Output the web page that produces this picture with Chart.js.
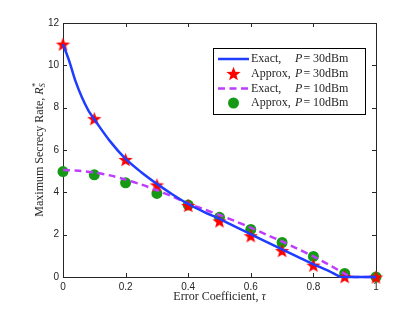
<!DOCTYPE html>
<html>
<head>
<meta charset="utf-8">
<script src="https://cdn.jsdelivr.net/npm/chart.js@4.4.1/dist/chart.umd.min.js"></script>
<style>
  html, body { margin: 0; padding: 0; background: #fff; }
  #wrap { width: 415px; height: 313px; }
</style>
</head>
<body>
<div id="wrap"><canvas id="chart" width="415" height="313"></canvas></div>
<script>
// data
const markerX = [0, 0.1, 0.2, 0.3, 0.4, 0.5, 0.6, 0.7, 0.8, 0.9, 1]
const approx30 = [11, 7.48, 5.55, 4.35, 3.38, 2.65, 1.95, 1.25, 0.56, 0.02, 0]
const approx10 = [4.98, 4.83, 4.45, 3.95, 3.4, 2.82, 2.25, 1.63, 0.97, 0.17, 0]

const exact30X = [0, 0.02, 0.04, 0.06, 0.08, 0.1, 0.15, 0.2, 0.25, 0.3, 0.35, 0.4, 0.45, 0.5, 0.55, 0.6, 0.65, 0.7, 0.75, 0.8, 0.85, 0.885, 0.9, 0.95, 1]
const exact30 = [11, 10.2, 9.25, 8.5, 7.9, 7.45, 6.42, 5.58, 4.95, 4.4, 3.9, 3.45, 3.08, 2.75, 2.38, 2.02, 1.66, 1.3, 0.95, 0.6, 0.28, 0.02, 0, 0, 0]
const exact10X = [0, 0.05, 0.1, 0.15, 0.2, 0.25, 0.3, 0.35, 0.4, 0.45, 0.5, 0.55, 0.6, 0.65, 0.7, 0.75, 0.8, 0.85, 0.9, 0.92, 0.95, 1]
const exact10 = [5.05, 5.02, 4.94, 4.8, 4.6, 4.37, 4.1, 3.8, 3.47, 3.2, 2.93, 2.64, 2.33, 2.0, 1.68, 1.33, 0.97, 0.58, 0.15, 0.02, 0, 0]

const xTicks = [0, 0.2, 0.4, 0.6, 0.8, 1]
const yTicks = [0, 2, 4, 6, 8, 10, 12]
const legendLabels = [
    ["Exact,", "30dBm"],
    ["Approx,", "30dBm"],
    ["Exact,", "10dBm"],
    ["Approx,", "10dBm"]
]

const BLUE = "#1f3cff"
const PURPLE = "#bf3cff"
const RED = "#ff0000"
const GREEN = "#169a16"
const INK = "#262626"
const SERIF = "'Liberation Serif', 'DejaVu Serif', serif"
const SANS = "'Liberation Sans', Arial, sans-serif"

function pairs(xs, ys) {
    return xs.map((x, i) => ({ x: x, y: ys[i] }))
}

// filled five-pointed star for the marker
function makeStar(r, color) {
    let c = document.createElement("canvas")
    c.width = c.height = Math.ceil(r * 2 + 2)
    let g = c.getContext("2d")
    let cx = c.width / 2, cy = c.height / 2 + r * 0.1
    g.beginPath()
    for (let i = 0; i < 10; i++) {
        let rad = i % 2 == 0 ? r : r * 0.42
        let a = -Math.PI / 2 + i * Math.PI / 5
        let px = cx + rad * Math.cos(a), py = cy + rad * Math.sin(a)
        if (i == 0) g.moveTo(px, py); else g.lineTo(px, py)
    }
    g.closePath()
    g.fillStyle = color
    g.fill()
    return c
}
const starImg = makeStar(7.5, RED)

// text made of pieces, some italic
function setFont(ctx, p) {
    ctx.font = (p.italic ? "italic " : "") + p.size + "px " + SERIF
}
function drawPieces(ctx, pieces, x, y) {
    let cx = x
    pieces.forEach(p => {
        setFont(ctx, p)
        ctx.fillText(p.t, cx, y + (p.dy || 0))
        if (!p.noAdvance) cx += ctx.measureText(p.t).width
    })
    return cx - x
}
function piecesWidth(ctx, pieces) {
    let w = 0
    pieces.forEach(p => {
        setFont(ctx, p)
        if (!p.noAdvance) w += ctx.measureText(p.t).width
    })
    return w
}

const framePlugin = {
    id: "frame",
    beforeDatasetsDraw(chart) {
        const { ctx, chartArea: a, scales } = chart
        ctx.save()
        ctx.lineWidth = 1
        ctx.strokeStyle = INK
        ctx.strokeRect(a.left + 0.5, a.top + 0.5, a.right - a.left, a.bottom - a.top)
        ctx.beginPath()
        xTicks.forEach(v => {
            let px = Math.round(scales.x.getPixelForValue(v)) + 0.5
            ctx.moveTo(px, a.bottom); ctx.lineTo(px, a.bottom - 4)
            ctx.moveTo(px, a.top); ctx.lineTo(px, a.top + 4)
        })
        yTicks.forEach(v => {
            let py = Math.round(scales.y.getPixelForValue(v)) + 0.5
            ctx.moveTo(a.left, py); ctx.lineTo(a.left + 4, py)
            ctx.moveTo(a.right, py); ctx.lineTo(a.right - 4, py)
        })
        ctx.stroke()
        ctx.restore()
    },
    afterDraw(chart) {
        const { ctx, chartArea: a } = chart
        ctx.save()
        ctx.fillStyle = INK
        ctx.textBaseline = "middle"

        // x title
        let xt = [{ t: "Error Coefficient, ", size: 12 }, { t: "τ", size: 12, italic: true }]
        let w = piecesWidth(ctx, xt)
        drawPieces(ctx, xt, (a.left + a.right) / 2 - w / 2, 297)

        // y title
        ctx.save()
        ctx.translate(40, (a.top + a.bottom) / 2)
        ctx.rotate(-Math.PI / 2)
        let yt = [
            { t: "Maximum Secrecy Rate, ", size: 12 },
            { t: "R", size: 12, italic: true },
            { t: "*", size: 8, italic: true, dy: -4, noAdvance: true },
            { t: "S", size: 8, italic: true, dy: 3 }
        ]
        w = piecesWidth(ctx, yt)
        drawPieces(ctx, yt, -w / 2, 0)
        ctx.restore()

        // legend
        let lx = 213, ly = 48, lw = 152, lh = 66
        ctx.fillStyle = "#fff"
        ctx.fillRect(lx, ly, lw, lh)
        ctx.strokeStyle = "#000"
        ctx.lineWidth = 1
        ctx.strokeRect(lx + 0.5, ly + 0.5, lw, lh)
        let rows = [59, 73.5, 88.5, 103]
        rows.forEach((ry, i) => {
            if (i == 0 || i == 2) {
                ctx.beginPath()
                ctx.strokeStyle = i == 0 ? BLUE : PURPLE
                ctx.lineWidth = 2.5
                ctx.setLineDash(i == 2 ? [7, 4.5] : [])
                ctx.moveTo(218, ry); ctx.lineTo(249, ry)
                ctx.stroke()
                ctx.setLineDash([])
            } else if (i == 1) {
                ctx.drawImage(starImg, 233.5 - starImg.width / 2, ry - starImg.height / 2)
            } else {
                ctx.beginPath()
                ctx.fillStyle = GREEN
                ctx.arc(233.5, ry, 5.5, 0, Math.PI * 2)
                ctx.fill()
            }
            ctx.fillStyle = INK
            drawPieces(ctx, [{ t: legendLabels[i][0], size: 12 }], 251, ry)
            drawPieces(ctx, [{ t: "P", size: 12, italic: true }], 295, ry)
            drawPieces(ctx, [{ t: "=", size: 12 }], 303.5, ry)
            drawPieces(ctx, [{ t: legendLabels[i][1], size: 12 }], 313, ry)
        })
        ctx.restore()
    }
}

new Chart(document.getElementById("chart"), {
    type: "line",
    data: {
        datasets: [
            {
                label: "Exact, P = 30dBm",
                data: pairs(exact30X, exact30),
                borderColor: BLUE,
                borderWidth: 2.5,
                pointRadius: 0,
                tension: 0.3,
                clip: false
            },
            {
                label: "Exact, P = 10dBm",
                data: pairs(exact10X, exact10),
                borderColor: PURPLE,
                borderWidth: 2.5,
                borderDash: [7, 4.5],
                pointRadius: 0,
                tension: 0.3,
                clip: false
            },
            {
                label: "Approx, P = 30dBm",
                data: pairs(markerX, approx30),
                showLine: false,
                pointStyle: starImg,
                pointRadius: 7,
                clip: false
            },
            {
                label: "Approx, P = 10dBm",
                data: pairs(markerX, approx10),
                showLine: false,
                pointStyle: "circle",
                pointRadius: 5.5,
                pointBackgroundColor: GREEN,
                pointBorderColor: GREEN,
                pointBorderWidth: 0,
                clip: false
            }
        ]
    },
    options: {
        responsive: false,
        animation: false,
        events: [],
        layout: { padding: { left: 0, right: 39, top: 23, bottom: 0 } },
        plugins: { legend: { display: false }, tooltip: { enabled: false } },
        scales: {
            x: {
                type: "linear",
                min: 0, max: 1,
                afterBuildTicks: s => { s.ticks = xTicks.map(v => ({ value: v })) },
                afterFit: s => { s.height = 36 },
                grid: { display: false, drawTicks: false },
                border: { display: false },
                ticks: { color: INK, font: { family: SANS, size: 10 }, padding: 4, maxRotation: 0, callback: v => String(v) }
            },
            y: {
                min: 0, max: 12,
                afterBuildTicks: s => { s.ticks = yTicks.map(v => ({ value: v })) },
                afterFit: s => { s.width = 63 },
                grid: { display: false, drawTicks: false },
                border: { display: false },
                ticks: { color: INK, font: { family: SANS, size: 10 }, padding: 4, callback: v => String(v) }
            }
        }
    },
    plugins: [framePlugin]
})
</script>
</body>
</html>
